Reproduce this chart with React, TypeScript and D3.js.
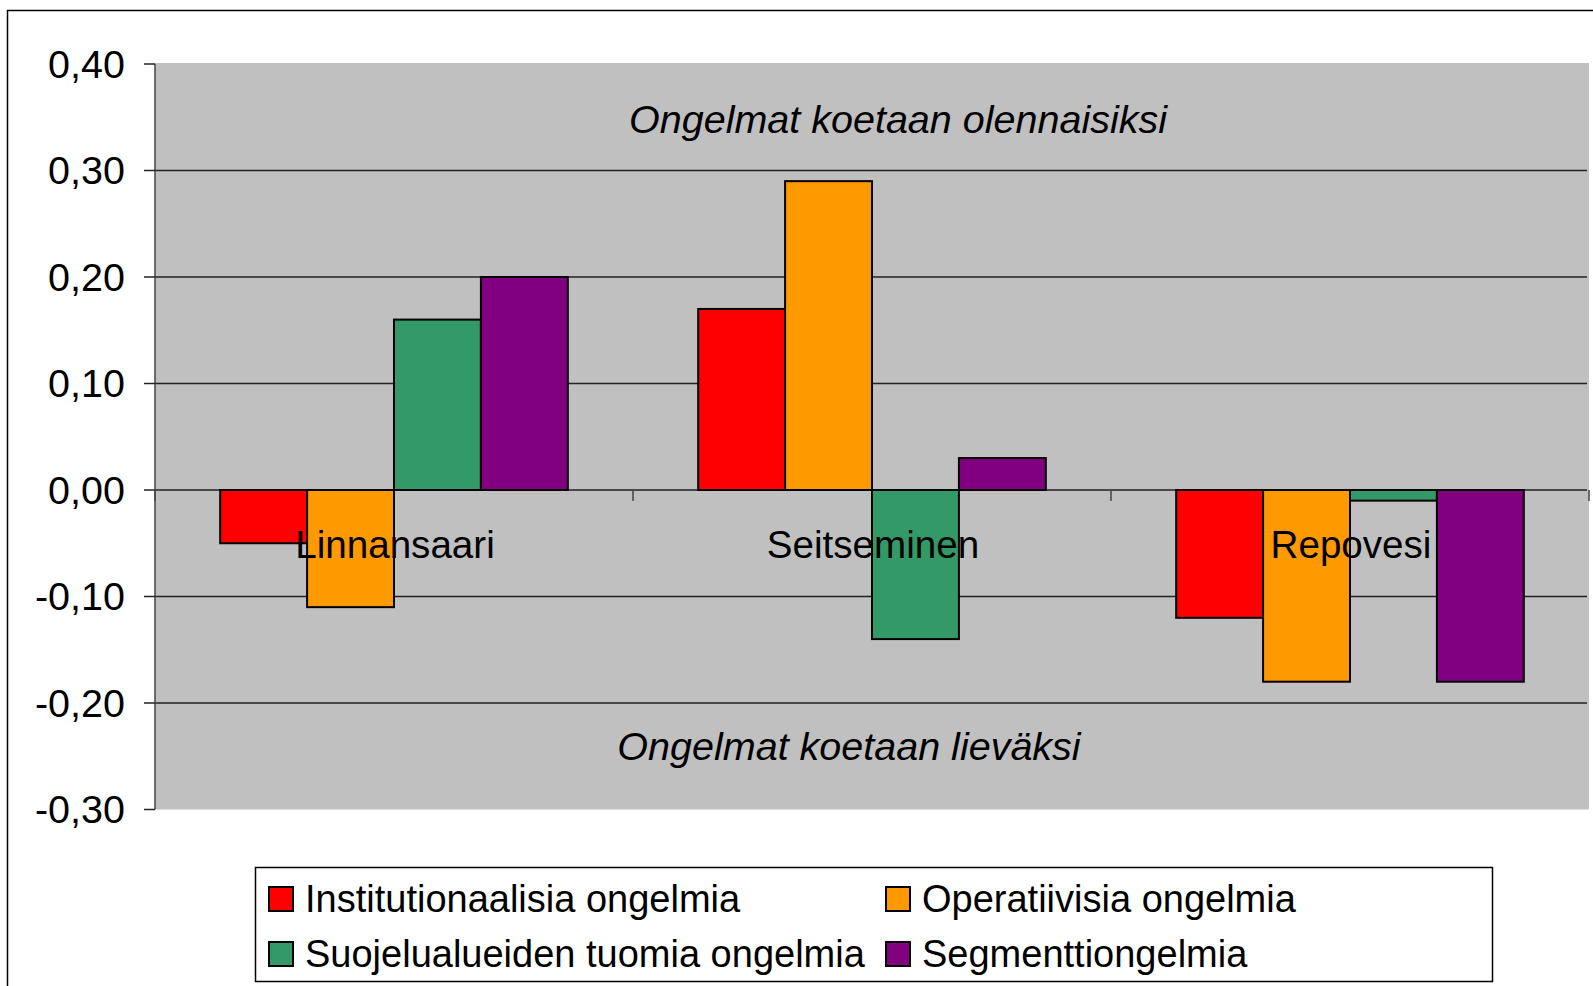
import React from 'react';
import * as d3 from 'd3';

const categories = ['Linnansaari', 'Seitseminen', 'Repovesi'];
const seriesNames = [
  'Institutionaalisia ongelmia',
  'Operatiivisia ongelmia',
  'Suojelualueiden tuomia ongelmia',
  'Segmenttiongelmia',
];
const institutional = [-0.05, 0.17, -0.12];
const operative = [-0.11, 0.29, -0.18];
const protectedArea = [0.16, -0.14, -0.01];
const segment = [0.2, 0.03, -0.18];
const seriesColors = ['#FF0000', '#FF9900', '#339966', '#800080'];
const yTicks = [0.4, 0.3, 0.2, 0.1, 0, -0.1, -0.2, -0.3];
const topNote = 'Ongelmat koetaan olennaisiksi';
const bottomNote = 'Ongelmat koetaan lieväksi';

const W = 1593;
const H = 986;
const font = '"Liberation Sans", Arial, sans-serif';

const fi = d3.formatLocale({
  decimal: ',',
  thousands: ' ',
  grouping: [3],
  currency: ['', '€'],
  minus: '-',
});
const fmt = fi.format('.2f');

export default function App() {
  const values = [institutional, operative, protectedArea, segment];

  // plot area
  const left = 155;
  const right = 1589;
  const top = 64;
  const bottom = 809.5;

  const y = d3.scaleLinear().domain([-0.3, 0.4]).range([bottom, top]);
  const x0 = d3.scaleBand().domain(categories).range([left, right]).padding(0);
  const x1 = d3
    .scaleBand()
    .domain(seriesNames)
    .range([0, x0.bandwidth()])
    .paddingInner(0)
    .paddingOuter(0.75);

  const zero = y(0);
  const catTicks = [...categories.map((c) => x0(c)), right];

  return (
    <svg
      width={W}
      height={H}
      style={{ position: 'absolute', left: 0, top: 0, background: '#fff' }}
      fontFamily={font}
    >
      {/* outer chart frame */}
      <rect x={7.5} y={10.5} width={1620} height={1000} fill="none" stroke="#000" strokeWidth={1.5} />

      {/* plot background */}
      <rect x={left} y={top - 1} width={right - left} height={bottom - top + 1} fill="#C0C0C0" />

      {/* gridlines */}
      {yTicks
        .filter((t) => t !== 0.4 && t !== -0.3)
        .map((t) => (
          <line key={'g' + t} x1={left} x2={right - 2} y1={y(t)} y2={y(t)} stroke="#222" strokeWidth={1.5} />
        ))}

      {/* y axis */}
      <line x1={left} x2={left} y1={top} y2={bottom} stroke="#444" strokeWidth={1.5} />
      {yTicks.map((t) => (
        <g key={'t' + t}>
          <line x1={left - 11} x2={left} y1={y(t)} y2={y(t)} stroke="#222" strokeWidth={1.5} />
          <text x={125} y={y(t)} dy="0.35em" textAnchor="end" fontSize={39.5} fill="#000">
            {fmt(t)}
          </text>
        </g>
      ))}

      {/* category axis ticks */}
      {catTicks.map((cx, i) => (
        <line key={'c' + i} x1={cx} x2={cx} y1={zero} y2={zero + 11} stroke="#444" strokeWidth={1.5} />
      ))}

      {/* bars */}
      {categories.map((c, ci) => (
        <g key={c} transform={`translate(${x0(c)},0)`}>
          {seriesNames.map((s, si) => {
            const v = values[si][ci];
            const y0 = Math.min(y(v), zero);
            const h = Math.abs(y(v) - zero);
            return (
              <rect
                key={s}
                x={x1(s)}
                y={y0}
                width={x1.bandwidth()}
                height={h}
                fill={seriesColors[si]}
                stroke="#000"
                strokeWidth={2}
              />
            );
          })}
        </g>
      ))}

      {/* category labels */}
      {categories.map((c) => (
        <text
          key={'l' + c}
          x={x0(c)! + x0.bandwidth() / 2 + 1}
          y={558}
          textAnchor="middle"
          fontSize={38.6}
          fill="#000"
        >
          {c}
        </text>
      ))}

      {/* notes */}
      <text x={898} y={133} textAnchor="middle" fontSize={39.5} fontStyle="italic" fill="#000">
        {topNote}
      </text>
      <text x={849} y={760} textAnchor="middle" fontSize={39.5} fontStyle="italic" fill="#000">
        {bottomNote}
      </text>

      {/* legend */}
      <rect x={255.5} y={867.5} width={1237} height={114} fill="#fff" stroke="#000" strokeWidth={1.5} />
      {seriesNames.map((s, i) => {
        const lx = i % 2 === 0 ? 269 : 886;
        const ly = i < 2 ? 899 : 954;
        return (
          <g key={'lg' + s}>
            <rect x={lx} y={ly - 12} width={24} height={24} fill={seriesColors[i]} stroke="#000" strokeWidth={2} />
            <text x={lx + 36} y={ly} dy="0.35em" fontSize={38} fill="#000">
              {s}
            </text>
          </g>
        );
      })}
    </svg>
  );
}
